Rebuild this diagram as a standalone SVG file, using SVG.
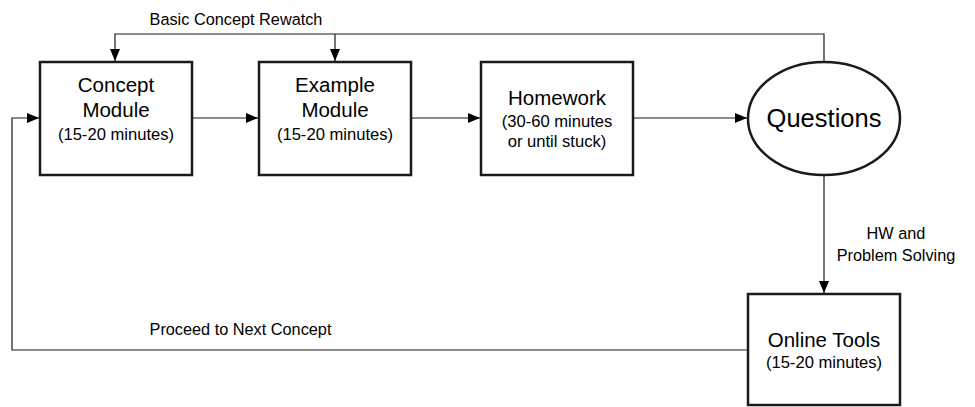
<svg xmlns="http://www.w3.org/2000/svg" width="975" height="407" viewBox="0 0 975 407">
  <style>
    .box { fill: #ffffff; stroke: #1a1a1a; stroke-width: 2.5; }
    .link { fill: none; stroke: #1a1a1a; stroke-width: 1.2; }
    text { font-family: "Liberation Sans", Arial, sans-serif; fill: #000; text-anchor: middle; }
    .title { font-size: 20.5px; }
    .sub { font-size: 16.6px; }
    .label { font-size: 16.3px; }
  </style>
  <defs>
    <marker id="arrow" viewBox="0 0 12 10" refX="12" refY="5" markerWidth="12" markerHeight="10" markerUnits="userSpaceOnUse" orient="auto">
      <path d="M0,0 L12,5 L0,10 Z" fill="#000"/>
    </marker>
  </defs>

  <!-- connectors -->
  <g id="connectors">
    <!-- forward flow -->
    <line class="link" x1="192" y1="118" x2="258" y2="118" marker-end="url(#arrow)"/>
    <line class="link" x1="411" y1="118" x2="480" y2="118" marker-end="url(#arrow)"/>
    <line class="link" x1="633" y1="118" x2="747" y2="118" marker-end="url(#arrow)"/>
    <!-- rewatch loop from Questions back to the modules -->
    <polyline class="link" points="824,62 824,34 115,34 115,61" marker-end="url(#arrow)"/>
    <line class="link" x1="335" y1="34" x2="335" y2="61" marker-end="url(#arrow)"/>
    <!-- Questions to Online Tools -->
    <line class="link" x1="824" y1="175" x2="824" y2="293" marker-end="url(#arrow)"/>
    <!-- Online Tools back to the next concept -->
    <polyline class="link" points="748,350 12,350 12,118 39,118" marker-end="url(#arrow)"/>
    <text class="label" x="236" y="25">Basic Concept Rewatch</text>
    <text class="label" x="896" y="239">HW and</text>
    <text class="label" x="896" y="261">Problem Solving</text>
    <text class="label" x="240.5" y="335">Proceed to Next Concept</text>
  </g>

  <g id="concept-module">
    <rect class="box" x="40" y="62" width="152" height="113"/>
    <text class="title" x="116" y="92">Concept</text>
    <text class="title" x="116" y="117">Module</text>
    <text class="sub" x="116" y="140">(15-20 minutes)</text>
  </g>

  <g id="example-module">
    <rect class="box" x="259" y="62" width="152" height="113"/>
    <text class="title" x="335" y="92">Example</text>
    <text class="title" x="335" y="117">Module</text>
    <text class="sub" x="335" y="140">(15-20 minutes)</text>
  </g>

  <g id="homework">
    <rect class="box" x="481" y="62" width="152" height="113"/>
    <text class="title" x="557" y="105">Homework</text>
    <text class="sub" x="557" y="127">(30-60 minutes</text>
    <text class="sub" x="557" y="147">or until stuck)</text>
  </g>

  <g id="questions">
    <ellipse class="box" cx="824" cy="118.5" rx="76" ry="56.5" stroke-width="2"/>
    <text x="824" y="127" font-size="25.5px">Questions</text>
  </g>

  <g id="online-tools">
    <rect class="box" x="748" y="294" width="152" height="111"/>
    <text class="title" x="824" y="347">Online Tools</text>
    <text class="sub" x="824" y="368">(15-20 minutes)</text>
  </g>
</svg>
